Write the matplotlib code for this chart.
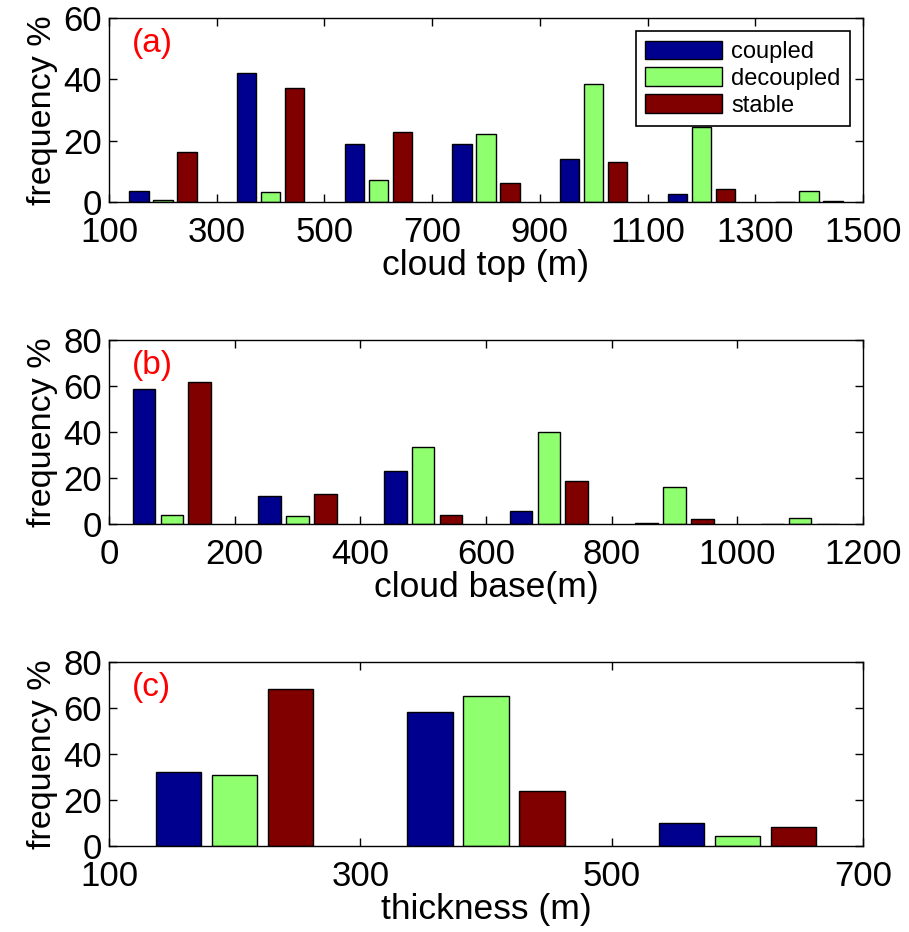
import matplotlib
matplotlib.use("Agg")
import matplotlib.pyplot as plt
import numpy as np

plt.rcParams['font.family'] = ['Liberation Sans', 'DejaVu Sans']

series_names = ["coupled", "decoupled", "stable"]
colors = ["#00008F", "#8FFF70", "#800000"]

# (a) cloud top
top_centers = [200, 400, 600, 800, 1000, 1200, 1400]
top_coupled = [3.7, 42.1, 18.8, 19.0, 13.9, 2.6, 0.0]
top_decoupled = [0.5, 3.2, 7.2, 22.2, 38.6, 24.3, 3.5]
top_stable = [16.4, 37.2, 22.7, 6.3, 13.1, 4.2, 0.3]

# (b) cloud base
base_centers = [100, 300, 500, 700, 900, 1100]
base_coupled = [58.7, 12.3, 23.1, 5.5, 0.4, 0.0]
base_decoupled = [3.9, 3.6, 33.5, 39.8, 15.9, 2.6]
base_stable = [61.9, 13.1, 3.9, 18.8, 2.0, 0.2]

# (c) thickness
thick_centers = [200, 400, 600]
thick_coupled = [32.1, 58.3, 10.1]
thick_decoupled = [30.7, 65.1, 4.3]
thick_stable = [68.3, 24.0, 8.1]

panels = [
    ("(a)", "cloud top (m)", top_centers, [top_coupled, top_decoupled, top_stable],
     (100, 1500), np.arange(100, 1501, 200), (0, 60), np.arange(0, 61, 20), 202),
    ("(b)", "cloud base(m)", base_centers, [base_coupled, base_decoupled, base_stable],
     (0, 1200), np.arange(0, 1201, 200), (0, 80), np.arange(0, 81, 20), 524),
    ("(c)", "thickness (m)", thick_centers, [thick_coupled, thick_decoupled, thick_stable],
     (100, 700), np.arange(100, 701, 200), (0, 80), np.arange(0, 81, 20), 846),
]

W, H = 909, 932
fig = plt.figure(figsize=(W / 100, H / 100), dpi=100)

for i, (tag, xlabel, centers, vals, xlim, xticks, ylim, yticks, ybot) in enumerate(panels):
    ax = fig.add_axes([109 / W, (H - ybot) / H, 754 / W, 184 / H])
    c = np.array(centers, dtype=float)
    offsets = [-44.5, 0, 44.5]
    for k in range(3):
        ax.bar(c + offsets[k], vals[k], width=36, color=colors[k],
               edgecolor="black", linewidth=1, label=series_names[k])
    ax.set_xlim(*xlim)
    ax.set_ylim(*ylim)
    ax.set_xticks(xticks)
    ax.set_yticks(yticks)
    ax.tick_params(direction="in", top=True, right=True, length=6, width=1,
                   labelsize=25)
    ax.tick_params(axis="x", pad=10)
    ax.tick_params(axis="y", pad=5)
    for s in ax.spines.values():
        s.set_linewidth(1)
    ax.set_xlabel(xlabel, fontsize=25.5, labelpad=0)
    ax.set_ylabel("frequency %", fontsize=24.5, labelpad=4)
    ax.text(0.03, 0.86, tag, transform=ax.transAxes, color="red",
            fontsize=24, va="center", ha="left")
    if i == 0:
        leg = ax.legend(loc="upper right", bbox_to_anchor=(0.983, 0.929),
                        borderaxespad=0, fontsize=17, handlelength=3.25,
                        handleheight=0.85, labelspacing=0.18, handletextpad=0.4,
                        borderpad=0.4, fancybox=False, framealpha=1)
        leg.get_frame().set_edgecolor("black")
        leg.get_frame().set_linewidth(1.2)

fig.savefig("out.png", dpi=100)
